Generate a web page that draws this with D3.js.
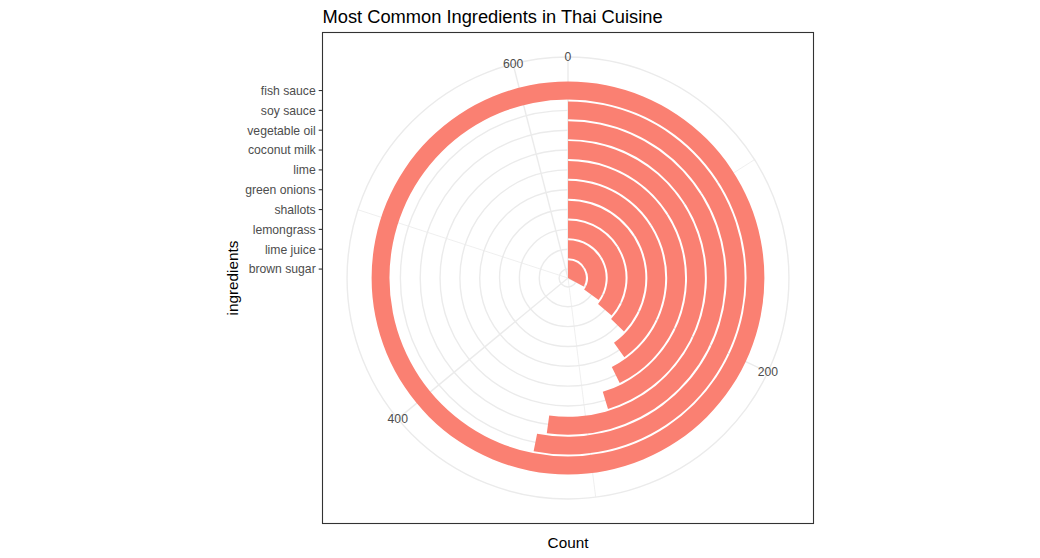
<!DOCTYPE html>
<html>
<head>
<meta charset="utf-8">
<script src="https://cdn.jsdelivr.net/npm/d3@7"></script>
<style>
  html, body { margin: 0; padding: 0; background: #fff; }
  svg { display: block; font-family: "Liberation Sans", Arial, Helvetica, sans-serif; }
</style>
</head>
<body>
<svg id="chart" width="1040" height="558"></svg>
<script>
// ---- data ----
const categories = ["brown sugar", "lime juice", "lemongrass", "shallots", "green onions",
                    "lime", "coconut milk", "vegetable oil", "soy sauce", "fish sauce"];
const counts = [206, 218, 227, 232, 251, 267, 283, 326, 332, 625];
const thetaMajor = [0, 200, 400, 600];
const thetaMinor = [100, 300, 500];
const titleText = "Most Common Ingredients in Thai Cuisine";
const xTitle = "Count";
const yTitle = "ingredients";

// ---- layout ----
const W = 1040, H = 558;
const panel = { left: 322.5, top: 32.5, right: 813.5, bottom: 523.5 };
const side = panel.bottom - panel.top;
const cx = (panel.left + panel.right) / 2;
const cy = (panel.top + panel.bottom) / 2;
const R = 0.4 * side;
const Rlab = 0.45 * side;

const svg = d3.select("#chart");
svg.append("rect").attr("width", W).attr("height", H).attr("fill", "#fff");

const theta = d3.scaleLinear().domain([0, d3.max(counts)]).range([0, 2 * Math.PI]);
const rBand = d3.scaleBand().domain(categories).range([0, R]).paddingInner(0.1).paddingOuter(0);

const g = svg.append("g").attr("transform", `translate(${cx},${cy})`);

// grid: radius circles
const rGrid = categories.map(c => rBand(c) + rBand.bandwidth() / 2).concat([Rlab]);
g.selectAll("circle.rgrid").data(rGrid).enter().append("circle")
  .attr("class", "rgrid").attr("r", d => d)
  .attr("fill", "none").attr("stroke", "#EBEBEB").attr("stroke-width", 1.4);

// grid: theta spokes
function spoke(sel, data, w) {
  sel.selectAll(null).data(data).enter().append("line")
    .attr("x1", 0).attr("y1", 0)
    .attr("x2", d => Rlab * Math.sin(theta(d)))
    .attr("y2", d => -Rlab * Math.cos(theta(d)))
    .attr("stroke", "#EBEBEB").attr("stroke-width", w);
}
spoke(g, thetaMinor, 0.8);
spoke(g, thetaMajor, 1.4);

// bars
const arc = d3.arc();
g.selectAll("path.bar").data(categories).enter().append("path")
  .attr("class", "bar")
  .attr("d", (c, i) => arc({
    innerRadius: rBand(c),
    outerRadius: rBand(c) + rBand.bandwidth(),
    startAngle: 0,
    endAngle: theta(counts[i])
  }))
  .attr("fill", "#FA8072");

// theta labels
g.selectAll("text.tlab").data(thetaMajor).enter().append("text")
  .attr("x", d => Rlab * Math.sin(theta(d)))
  .attr("y", d => -Rlab * Math.cos(theta(d)) + 4.4)
  .attr("text-anchor", "middle")
  .attr("font-size", 12.2).attr("fill", "#4D4D4D")
  .text(d => d);

// panel border
svg.append("rect")
  .attr("x", panel.left).attr("y", panel.top)
  .attr("width", panel.right - panel.left).attr("height", panel.bottom - panel.top)
  .attr("fill", "none").attr("stroke", "#333333").attr("stroke-width", 1.1);

// r axis (left)
const yScale = d3.scaleBand().domain(categories).range([cy, cy - R]).paddingInner(0.1).paddingOuter(0);
const yAxis = d3.axisLeft(yScale).tickSize(3.8).tickPadding(3);
const ax = svg.append("g").attr("transform", `translate(${panel.left},0)`).call(yAxis);
ax.select(".domain").remove();
ax.selectAll(".tick line").attr("stroke", "#333333").attr("stroke-width", 1.1);
ax.selectAll(".tick text")
  .attr("font-size", 12.2).attr("fill", "#4D4D4D")
  .attr("font-family", "\"Liberation Sans\", Arial, sans-serif")
  .attr("dy", null).attr("y", 4.3);

// titles
svg.append("text").attr("x", panel.left).attr("y", 22.8)
  .attr("font-size", 18.3).attr("fill", "#000").text(titleText);
svg.append("text").attr("x", cx).attr("y", 548)
  .attr("text-anchor", "middle").attr("font-size", 15.3).attr("fill", "#000").text(xTitle);
svg.append("text").attr("transform", `translate(238,${cy}) rotate(-90)`)
  .attr("text-anchor", "middle").attr("font-size", 15.3).attr("fill", "#000").text(yTitle);
</script>
</body>
</html>
